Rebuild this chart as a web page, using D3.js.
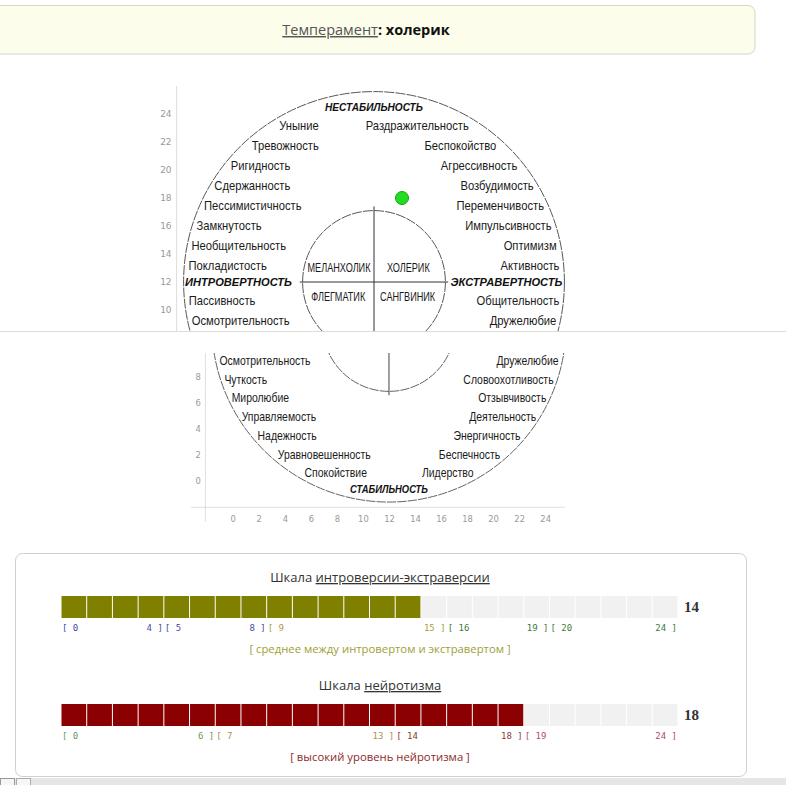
<!DOCTYPE html>
<html>
<head>
<meta charset="utf-8">
<script src="https://cdn.jsdelivr.net/npm/d3@7"></script>
<style>
  body { margin: 0; background: #fff; }
  svg { display: block; }
  .trait { font-family: "Liberation Sans", Arial, sans-serif; font-size: 12.8px; fill: #1a1a1a; }
  .pole { font-family: "Liberation Sans", Arial, sans-serif; font-size: 11.5px; font-weight: bold; font-style: italic; fill: #111; }
  .quad { font-family: "Liberation Sans", Arial, sans-serif; font-size: 12px; fill: #1a1a1a; }
  .tick text { font-family: "DejaVu Sans", sans-serif; font-size: 9px; fill: #999; }
  .title { font-family: "Open Sans", sans-serif; font-size: 13px; fill: #333; }
  .rng { font-family: "DejaVu Sans Mono", monospace; font-size: 9px; }
  .verdict { font-family: "Open Sans", sans-serif; font-size: 11.3px; }
  .score { font-family: "Liberation Serif", serif; font-size: 15px; font-weight: bold; fill: #333; }
</style>
</head>
<body>
<svg id="page" width="786" height="785"></svg>
<script>
// ---- данные ----
const temperament = 'холерик';
const scoreIE = 14;          // шкала интроверсии-экстраверсии
const scoreN = 18;           // шкала нейротизма
const axisTicks = d3.range(0, 25, 2);

// черты по кругу Айзенка (от горизонтали наружу)
const upperLeft  = ['Покладистость', 'Необщительность', 'Замкнутость', 'Пессимистичность', 'Сдержанность', 'Ригидность', 'Тревожность', 'Уныние'];
const upperRight = ['Активность', 'Оптимизм', 'Импульсивность', 'Переменчивость', 'Возбудимость', 'Агрессивность', 'Беспокойство', 'Раздражительность'];
const lowerLeft  = ['Пассивность', 'Осмотрительность', 'Чуткость', 'Миролюбие', 'Управляемость', 'Надежность', 'Уравновешенность', 'Спокойствие'];
const lowerRight = ['Общительность', 'Дружелюбие', 'Словоохотливость', 'Отзывчивость', 'Деятельность', 'Энергичность', 'Беспечность', 'Лидерство'];
const quadrants  = ['МЕЛАНХОЛИК', 'ХОЛЕРИК', 'ФЛЕГМАТИК', 'САНГВИНИК'];

const ieRanges = [[0, 4], [5, 8], [9, 15], [16, 19], [20, 24]];
const nRanges  = [[0, 6], [7, 13], [14, 18], [19, 24]];
const ieRangeColors = ['#4a4aa8', '#4a4aa8', '#a8a040', '#3f7a3f', '#3f7a3f'];
const nRangeColors  = ['#6a9a5a', '#b09050', '#8a3a3a', '#b04a7a'];
const ieVerdict = '[ среднее между интровертом и экстравертом ]';
const nVerdict  = '[ высокий уровень нейротизма ]';

const svg = d3.select('#page');
const defs = svg.append('defs');

// узкий шрифт имитируем сжатием по горизонтали
function squeeze(cls, sample, target) {
  const t = svg.append('text').attr('class', cls).text(sample);
  const w = t.node().getComputedTextLength();
  t.remove();
  return target / w;
}
const sxTrait = squeeze('trait', 'Осмотрительность', 98);
const sxPoleV = squeeze('pole', 'НЕСТАБИЛЬНОСТЬ', 98);
const sxPoleH = squeeze('pole', 'ИНТРОВЕРТНОСТЬ', 107);
const sxQuad  = squeeze('quad', 'МЕЛАНХОЛИК', 63);

function label(g, cls, x, y, anchor, txt, sx) {
  return g.append('text').attr('class', cls)
    .attr('transform', `translate(${x},${y}) scale(${sx},1)`)
    .attr('dy', '0.35em').attr('text-anchor', anchor).text(txt);
}

// ---- верхняя плашка ----
svg.append('rect').attr('x', -12).attr('y', 5.5).attr('width', 767).attr('height', 48.5)
  .attr('rx', 7).attr('fill', '#fdfdeb').attr('stroke', '#d6d6c2');
const head = svg.append('text').attr('class', 'title').attr('x', 366).attr('y', 35)
  .attr('text-anchor', 'middle').style('font-size', '14.5px');
head.append('tspan').attr('fill', '#555').attr('text-decoration', 'underline').text('Темперамент');
head.append('tspan').attr('font-weight', 'bold').attr('fill', '#111').text(': ' + temperament);

// ---- круг Айзенка ----
const UNIT = 14;
const R_BIG = 13.6, R_SMALL = 5.1, C = 12;

// vis = [vmin, vmax]: видимая в кадре полоса по оси Y (в единицах шкалы)
function drawCircle(g, vis) {
  const x = d3.scaleLinear().domain([-2.1, 25.5]).range([0, 27.6 * UNIT]);
  const y = d3.scaleLinear().domain([-2, 26]).range([28 * UNIT, 0]);
  const seen = v => v >= vis[0] && v <= vis[1];

  // оси
  const yAxis = g.append('g').attr('class', 'tick')
    .call(d3.axisLeft(y).tickValues(axisTicks.filter(seen)).tickSize(0).tickPadding(5));
  yAxis.select('.domain').remove();
  if (seen(-2)) {
    const xAxis = g.append('g').attr('class', 'tick').attr('transform', `translate(0,${y(-2)})`)
      .call(d3.axisBottom(x).tickValues(axisTicks).tickSize(0).tickPadding(9));
    xAxis.select('.domain').remove();
  }
  g.append('line').attr('x1', x(-2.1)).attr('x2', x(-2.1)).attr('y1', y(26)).attr('y2', y(-3.1))
    .attr('stroke', '#ddd');
  g.append('line').attr('x1', x(-3.2)).attr('x2', x(25.5)).attr('y1', y(-2)).attr('y2', y(-2))
    .attr('stroke', '#ddd');

  // окружности и крест
  [R_BIG, R_SMALL].forEach(r => {
    g.append('circle').attr('cx', x(C)).attr('cy', y(C)).attr('r', x(r) - x(0))
      .attr('fill', 'none').attr('stroke', '#444').attr('stroke-width', 0.9)
      .attr('stroke-dasharray', '10,1.2');
  });
  g.append('line').attr('x1', x(C - 5.3)).attr('x2', x(C + 5.3)).attr('y1', y(C)).attr('y2', y(C))
    .attr('stroke', '#333').attr('stroke-width', 1);
  g.append('line').attr('x1', x(C)).attr('x2', x(C)).attr('y1', y(C + 5.4)).attr('y2', y(C - 5.4))
    .attr('stroke', '#333').attr('stroke-width', 1);

  // черты вдоль окружности
  function side(list, up, left) {
    list.forEach((t, i) => {
      const dy = up ? 1.2 + i * 1.43 : -(1.3 + i * 1.44);
      if (!seen(C + dy)) return;
      const h = Math.sqrt(R_BIG * R_BIG - dy * dy);
      const pad = 0.3 + Math.max(0, Math.abs(dy) - 7) * 0.15;
      label(g, 'trait', x(left ? C - h + pad : C + h - pad), y(C + dy),
        left ? 'start' : 'end', t, sxTrait);
    });
  }
  side(upperLeft, true, true);
  side(upperRight, true, false);
  side(lowerLeft, false, true);
  side(lowerRight, false, false);

  if (seen(C + 12.5)) label(g, 'pole', x(C), y(C + 12.5), 'middle', 'НЕСТАБИЛЬНОСТЬ', sxPoleV);
  if (seen(C - 12.6)) label(g, 'pole', x(C), y(C - 12.6), 'middle', 'СТАБИЛЬНОСТЬ', sxPoleV);
  if (seen(C)) {
    label(g, 'pole', x(C - R_BIG + 0.1), y(C), 'start', 'ИНТРОВЕРТНОСТЬ', sxPoleH);
    label(g, 'pole', x(C + R_BIG - 0.15), y(C), 'end', 'ЭКСТРАВЕРТНОСТЬ', sxPoleH);
  }

  const qpos = [[-2.5, 1.0], [2.45, 1.0], [-2.55, -1.07], [2.4, -1.07]];
  quadrants.forEach((q, i) => {
    if (!seen(C + qpos[i][1])) return;
    label(g, 'quad', x(C + qpos[i][0]), y(C + qpos[i][1]), 'middle', q, sxQuad);
  });

  // точка испытуемого
  if (seen(scoreN)) {
    g.append('circle').attr('cx', x(scoreIE)).attr('cy', y(scoreN)).attr('r', 6.5)
      .attr('fill', '#22dd22').attr('stroke', '#16a016').attr('stroke-width', 1);
  }
}

// верхний кадр
defs.append('clipPath').attr('id', 'clipTop').append('rect')
  .attr('x', 0).attr('y', 56).attr('width', 786).attr('height', 275);
const topFrame = svg.append('g').attr('clip-path', 'url(#clipTop)')
  .append('g').attr('transform', 'translate(176.6,86)');
drawCircle(topFrame, [8.8, 28]);

svg.append('line').attr('x1', 0).attr('x2', 786).attr('y1', 331.5).attr('y2', 331.5)
  .attr('stroke', '#dcdcdc');

// нижний кадр
defs.append('clipPath').attr('id', 'clipBot').append('rect')
  .attr('x', 0).attr('y', 353).attr('width', 786).attr('height', 193);
const botFrame = svg.append('g').attr('clip-path', 'url(#clipBot)')
  .append('g').attr('transform', 'translate(205.4,142.7) scale(0.93)');
drawCircle(botFrame, [-5, 9.55]);

// ---- шкалы ----
svg.append('rect').attr('x', 15.5).attr('y', 553.5).attr('width', 731).attr('height', 223)
  .attr('rx', 7).attr('fill', '#fff').attr('stroke', '#cfcfcf');

const xBar = d3.scaleLinear().domain([0, 24]).range([61, 678]);

function drawScale(barTop, title1, title2, score, color, ranges, colors, verdict, verdictColor) {
  const t = svg.append('text').attr('class', 'title').attr('x', 380).attr('y', barTop - 14)
    .attr('text-anchor', 'middle');
  t.append('tspan').text(title1);
  t.append('tspan').attr('text-decoration', 'underline').text(title2);

  svg.append('g').selectAll('rect').data(d3.range(24)).join('rect')
    .attr('x', i => xBar(i) + 0.5).attr('y', barTop)
    .attr('width', i => xBar(i + 1) - xBar(i) - 1).attr('height', 22)
    .attr('fill', i => i < score ? color : '#f1f1f1');

  svg.append('text').attr('class', 'score').attr('x', 684).attr('y', barTop + 16).text(score);

  ranges.forEach(([a, b], i) => {
    svg.append('text').attr('class', 'rng').attr('fill', colors[i])
      .attr('x', xBar(Math.max(0, a - 1)) + 1).attr('y', barTop + 35).text('[ ' + a);
    svg.append('text').attr('class', 'rng').attr('fill', colors[i]).attr('text-anchor', 'end')
      .attr('x', xBar(b) - 1).attr('y', barTop + 35).text(b + ' ]');
  });

  svg.append('text').attr('class', 'verdict').attr('fill', verdictColor)
    .attr('x', 380).attr('y', barTop + 57).attr('text-anchor', 'middle').text(verdict);
}

drawScale(596, 'Шкала ', 'интроверсии-экстраверсии', scoreIE, '#808000', ieRanges, ieRangeColors, ieVerdict, '#a0a035');
drawScale(704, 'Шкала ', 'нейротизма', scoreN, '#8b0000', nRanges, nRangeColors, nVerdict, '#8e2a2a');

// полоса прокрутки внизу
svg.append('rect').attr('x', 0).attr('y', 778).attr('width', 786).attr('height', 7).attr('fill', '#e6e6e6');
svg.append('rect').attr('x', 0.5).attr('y', 778.5).attr('width', 14).attr('height', 7).attr('fill', '#f6f6f6').attr('stroke', '#999');
svg.append('rect').attr('x', 16.5).attr('y', 778.5).attr('width', 14).attr('height', 7).attr('fill', '#f6f6f6').attr('stroke', '#aaa');
</script>
</body>
</html>
